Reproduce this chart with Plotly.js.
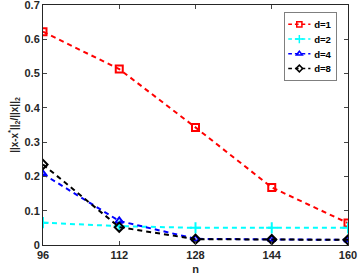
<!DOCTYPE html>
<html><head><meta charset="utf-8">
<script src="https://cdn.plot.ly/plotly-3.0.1.min.js"></script>
<style>html,body{margin:0;padding:0;background:#fff}#c{width:360px;height:277px}</style>
</head><body><div id="c"></div>
<script>
const nVals = [96, 112, 128, 144, 160];
const d1 = [0.622, 0.513, 0.343, 0.168, 0.064];
const d2 = [0.065, 0.055, 0.050, 0.050, 0.050];
const d4 = [0.207, 0.070, 0.018, 0.017, 0.015];
const d8 = [0.235, 0.052, 0.017, 0.016, 0.015];
const names = ['d=1', 'd=2', 'd=4', 'd=8'];
const colors = ['#ff0000', '#00ffff', '#0000ff', '#000000'];
const symbols = ['square-open', 'cross-thin-open', 'triangle-up-open', 'diamond-open'];
const series = [d1, d2, d4, d8];
const traces = series.map((ys, i) => ({
  x: nVals, y: ys, name: names[i], type: 'scatter', mode: 'lines+markers',
  line: {color: colors[i], dash: '5px,4px', width: 2},
  marker: {symbol: symbols[i], color: colors[i], size: symbols[i]==='cross-thin-open'?8:7,
           line: {color: colors[i], width: 2}}
}));
const font = {family: 'Liberation Sans, Arial, sans-serif', size: 11, color: '#262626', weight: 'bold'};
Plotly.newPlot('c', traces, {
  width: 360, height: 277,
  margin: {l: 43, r: 9, t: 5, b: 32},
  paper_bgcolor: '#fff', plot_bgcolor: '#fff',
  font: font,
  showlegend: true,
  legend: {x: 0.79, y: 0.968, xanchor: 'left', yanchor: 'top', bgcolor: '#fff',
           bordercolor: '#262626', borderwidth: 0.8, font: {size: 13, weight: 'bold', family: font.family, color: '#000'},
           tracegroupgap: 0, itemwidth: 30},
  xaxis: {range: [96, 160], tickvals: nVals, ticktext: nVals.map(String),
          ticks: 'inside', ticklen: 4, mirror: 'ticks', showline: true, linecolor: '#262626', linewidth: 1,
          showgrid: false, zeroline: false, ticklabeloverflow: 'allow',
          title: {text: 'n', font: {size: 11, weight: 'bold'}, standoff: 5}},
  yaxis: {range: [0, 0.7], tickvals: [0,0.1,0.2,0.3,0.4,0.5,0.6,0.7],
          ticktext: ['0','0.1','0.2','0.3','0.4','0.5','0.6','0.7'],
          ticks: 'inside', ticklen: 4, mirror: 'ticks', showline: true, linecolor: '#262626', linewidth: 1,
          showgrid: false, zeroline: false, ticklabeloverflow: 'allow',
          title: {text: '||x-x<sup>*</sup>||<sub>2</sub>/||x||<sub>2</sub>', font: {size: 10, weight: 'bold'}, standoff: 4}}
}, {displayModeBar: false, staticPlot: true}).then(gd => {
  const lg = gd.querySelector('g.legend');
  if (lg) {
    const t = lg.getAttribute('transform') || '';
    lg.setAttribute('transform', t + ' scale(0.74)');
  }
});
</script></body></html>
